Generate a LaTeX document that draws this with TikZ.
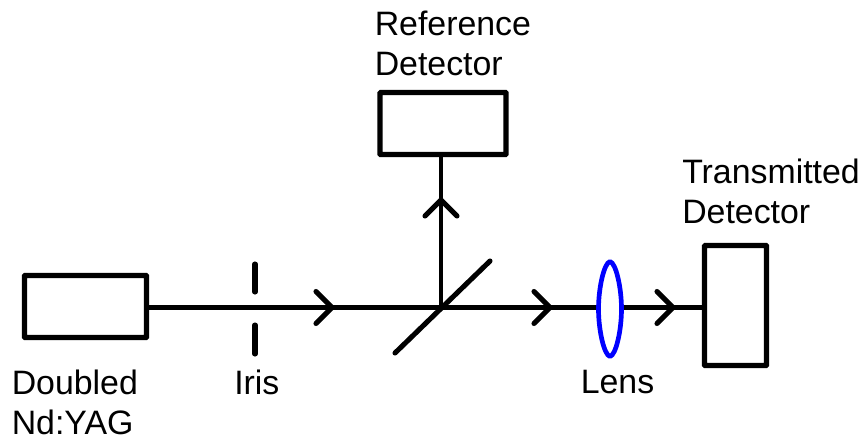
\documentclass[tikz,border=0pt]{standalone}
\usepackage{fontspec}
\setmainfont{Liberation Sans}
\begin{document}
\begin{tikzpicture}[x=0.75pt,y=-0.75pt,
  boxnode/.style={draw=black,line width=3.9pt,rounded corners=0.5pt,fill=white,inner sep=0pt,outer sep=0pt,anchor=north west},
  beam/.style={draw=black,line width=3.3pt},
  chev/.style={draw=black,line width=3.8pt,line cap=round,line join=miter},
  lbl/.style={inner sep=0pt,align=left,font=\fontsize{25.4pt}{30pt}\selectfont,text=black,anchor=north west}]
\useasboundingbox (0,0) rectangle (866,440);
\coordinate (j) at (441,307.5);
\coordinate (tipA) at (332,307.5);
\coordinate (tipB) at (550,307.5);
\coordinate (tipC) at (673,307.5);
\coordinate (tipU) at (441,200);
\coordinate (mA) at (395,353);
\coordinate (mB) at (490,261);
\coordinate (lensL) at (596,307.5);
\coordinate (lensR) at (624,307.5);
\coordinate (irisA) at (255,264);
\coordinate (irisB) at (255,292);
\coordinate (irisC) at (255,325);
\coordinate (irisD) at (255,354);
\node[boxnode,minimum width=91.5pt,minimum height=46.5pt] (laser) at (24.5,275.5) {};
\node[boxnode,minimum width=94.5pt,minimum height=46.5pt] (ref) at (380,92.5) {};
\node[boxnode,minimum width=46.5pt,minimum height=90pt] (trans) at (704.5,245.5) {};
\draw[beam] (j -| laser.east) -- (j);
\draw[beam] (j) -- (lensL);
\draw[beam] (lensR) -- (j -| trans.west);
\draw[beam] (j) -- (j |- ref.south);
\draw[chev] (mA) -- (mB);
\draw[chev] (irisA) -- (irisB);
\draw[chev] (irisC) -- (irisD);
\foreach \t in {tipA,tipB,tipC}
  \draw[chev] ([shift={(-16,-16)}]\t) -- (\t) -- ([shift={(-16,16)}]\t);
\draw[chev] ([shift={(-16,16)}]tipU) -- (tipU) -- ([shift={(16,16)}]tipU);
\draw[draw={rgb,255:red,0;green,0;blue,255},line width=3.5pt,line join=round]
  (610,261.5) .. controls (604,263) and (598.5,288) .. (598.5,309)
  .. controls (598.5,330) and (604,355) .. (610,356.5)
  .. controls (616,355) and (621.5,330) .. (621.5,309)
  .. controls (621.5,288) and (616,263) .. (610,261.5) -- cycle;
\node[lbl] (t1) at (11.5,369.5) {Doubled\\Nd:YAG};
\node[lbl] (t2) at (234,369.5) {Iris};
\node[lbl] (t3) at (580.5,369.5) {Lens};
\node[lbl] (t4) at (374.5,11) {Reference\\Detector};
\node[lbl] (t5) at (682,159) {Transmitted\\Detector};
\end{tikzpicture}
\end{document}
